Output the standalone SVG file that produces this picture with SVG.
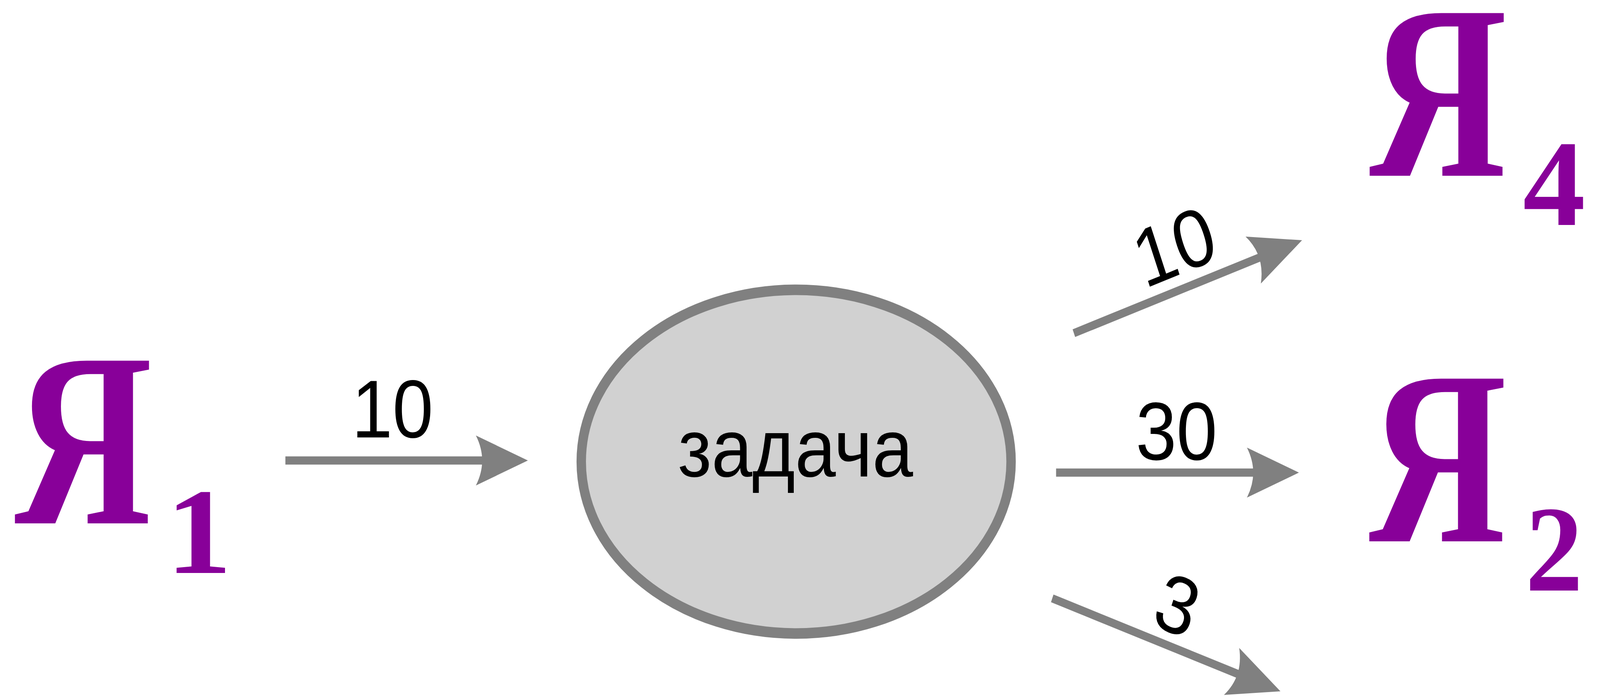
<svg xmlns="http://www.w3.org/2000/svg" width="4586" height="1782" viewBox="0 0 4586 1782" preserveAspectRatio="none">
<style>
svg{width:100vw;height:100vh;}
.ya{font-family:"Liberation Serif","DejaVu Serif",serif;font-weight:bold;fill:#880099;}
.big{font-size:636px;}
.sub{font-size:314px;}
.lbl{font-family:"Liberation Sans",Arial,sans-serif;font-size:210px;fill:#000;text-anchor:middle;}
.edge{stroke:#808080;stroke-width:21;fill:none;marker-end:url(#arr);}
</style>
<defs>
<marker id="arr" markerUnits="userSpaceOnUse" viewBox="-5 -70 165 140" markerWidth="165" markerHeight="140" refX="25" refY="0" orient="auto">
<path d="M0,-64 L149,0 L0,64 Q36,0 0,-64 Z" fill="#808080"/>
</marker>
</defs>
<rect width="4586" height="1782" fill="#fff"/>
<g id="node-ya1">
<text class="ya big" transform="translate(42,1340) scale(0.858,1)">Я</text>
<text class="ya sub" transform="translate(476,1467) scale(1.2,1)">1</text>
</g>
<g id="node-task">
<ellipse cx="2282" cy="1182" rx="616" ry="440" fill="#D1D1D1" stroke="#808080" stroke-width="27"/>
<text class="lbl" x="2280" y="1220" font-size="208">задача</text>
</g>
<g id="node-ya4">
<text class="ya big" transform="translate(3925,450) scale(0.858,1)">Я</text>
<text class="ya sub" transform="translate(4365,576) scale(1.14,1)">4</text>
</g>
<g id="node-ya2">
<text class="ya big" transform="translate(3924,1386) scale(0.858,1)">Я</text>
<text class="ya sub" transform="translate(4372,1512) scale(1.05,1)">2</text>
</g>
<g id="connectors">
<line class="edge" x1="818" y1="1179" x2="1389" y2="1179"/>
<line class="edge" x1="3027" y1="1210" x2="3599" y2="1210"/>
<line class="edge" x1="3016" y1="1532" x2="3553.5" y2="1727.6"/>
<line class="edge" x1="3078" y1="853" x2="3615.5" y2="657.4"/>
<text class="lbl" x="1125" y="1120">10</text>
<text class="lbl" x="3372" y="1177">30</text>
<text class="lbl" transform="translate(3365,629) rotate(-20)" x="0" y="75">10</text>
<text class="lbl" transform="translate(3376,1547) rotate(20)" x="0" y="75">3</text>
</g>
</svg>
